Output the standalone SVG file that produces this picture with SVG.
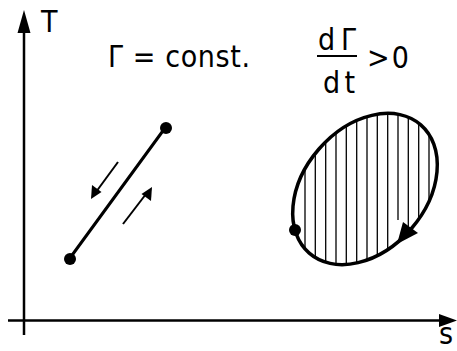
<svg xmlns="http://www.w3.org/2000/svg" width="457" height="351" viewBox="0 0 457 351">
<style>
.txt{font-family:"DejaVu Sans Condensed","DejaVu Sans",sans-serif;font-size:30px;fill:#000}
.axis{stroke:#000;stroke-width:2.5;fill:none}
.thick{stroke:#000;stroke-width:3;fill:none;stroke-linecap:round}
.thin{stroke:#000;stroke-width:2;fill:none}
.hatch{stroke:#000;stroke-width:1.3}
.dot{fill:#000}
</style>
<defs>
<clipPath id="ellclip"><ellipse cx="365" cy="189" rx="85" ry="61" transform="rotate(-49 365 189)"/></clipPath>
</defs>
<g id="axes">
<line class="axis" x1="24" y1="335" x2="24" y2="28"/>
<polygon points="24,10 17.5,33 30.5,33"/>
<line class="axis" x1="8" y1="320.5" x2="442" y2="320.5"/>
<polygon points="457,320.5 439,314 439,327"/>
<text class="txt" x="41" y="32">T</text>
<text class="txt" x="439" y="344" font-size="25">s</text>
</g>
<g id="labels">
<text class="txt" x="108" y="67" textLength="142" lengthAdjust="spacing">Γ = const.</text>
<text class="txt" x="318" y="50" textLength="38" lengthAdjust="spacing">dΓ</text>
<line x1="317" y1="56" x2="357" y2="56" stroke="#000" stroke-width="2"/>
<text class="txt" x="323" y="93" textLength="32" lengthAdjust="spacing">dt</text>
<text class="txt" x="367" y="68" textLength="42" lengthAdjust="spacing">&gt;0</text>
</g>
<g id="node-reversible">
<line class="thick" x1="165" y1="128" x2="70" y2="258"/>
<circle class="dot" cx="166" cy="128" r="6"/>
<circle class="dot" cx="70" cy="259" r="6"/>
</g>
<g id="node-irreversible">
<g clip-path="url(#ellclip)">
<line class="hatch" x1="305" y1="90" x2="305" y2="290"/>
<line class="hatch" x1="315.3" y1="90" x2="315.3" y2="290"/>
<line class="hatch" x1="325.7" y1="90" x2="325.7" y2="290"/>
<line class="hatch" x1="336" y1="90" x2="336" y2="290"/>
<line class="hatch" x1="346.3" y1="90" x2="346.3" y2="290"/>
<line class="hatch" x1="356.7" y1="90" x2="356.7" y2="290"/>
<line class="hatch" x1="367" y1="90" x2="367" y2="290"/>
<line class="hatch" x1="377.3" y1="90" x2="377.3" y2="290"/>
<line class="hatch" x1="387.7" y1="90" x2="387.7" y2="290"/>
<line class="hatch" x1="398" y1="90" x2="398" y2="220"/>
<line class="hatch" x1="408.3" y1="90" x2="408.3" y2="290"/>
<line class="hatch" x1="418.7" y1="90" x2="418.7" y2="290"/>
<line class="hatch" x1="429" y1="90" x2="429" y2="290"/>
</g>
<ellipse cx="365" cy="189" rx="85" ry="61" transform="rotate(-49 365 189)" fill="none" stroke="#000" stroke-width="3.5"/>
<circle class="dot" cx="295" cy="230" r="6"/>
<polygon points="397,244 403,222 418,233"/>
</g>
<g id="connectors">
<line class="thin" x1="118" y1="162" x2="96" y2="192"/>
<polygon points="91,199 92,185 101.5,192"/>
<line class="thin" x1="123" y1="224" x2="146" y2="194"/>
<polygon points="152,187 151,201 141.5,194"/>
</g>
</svg>
